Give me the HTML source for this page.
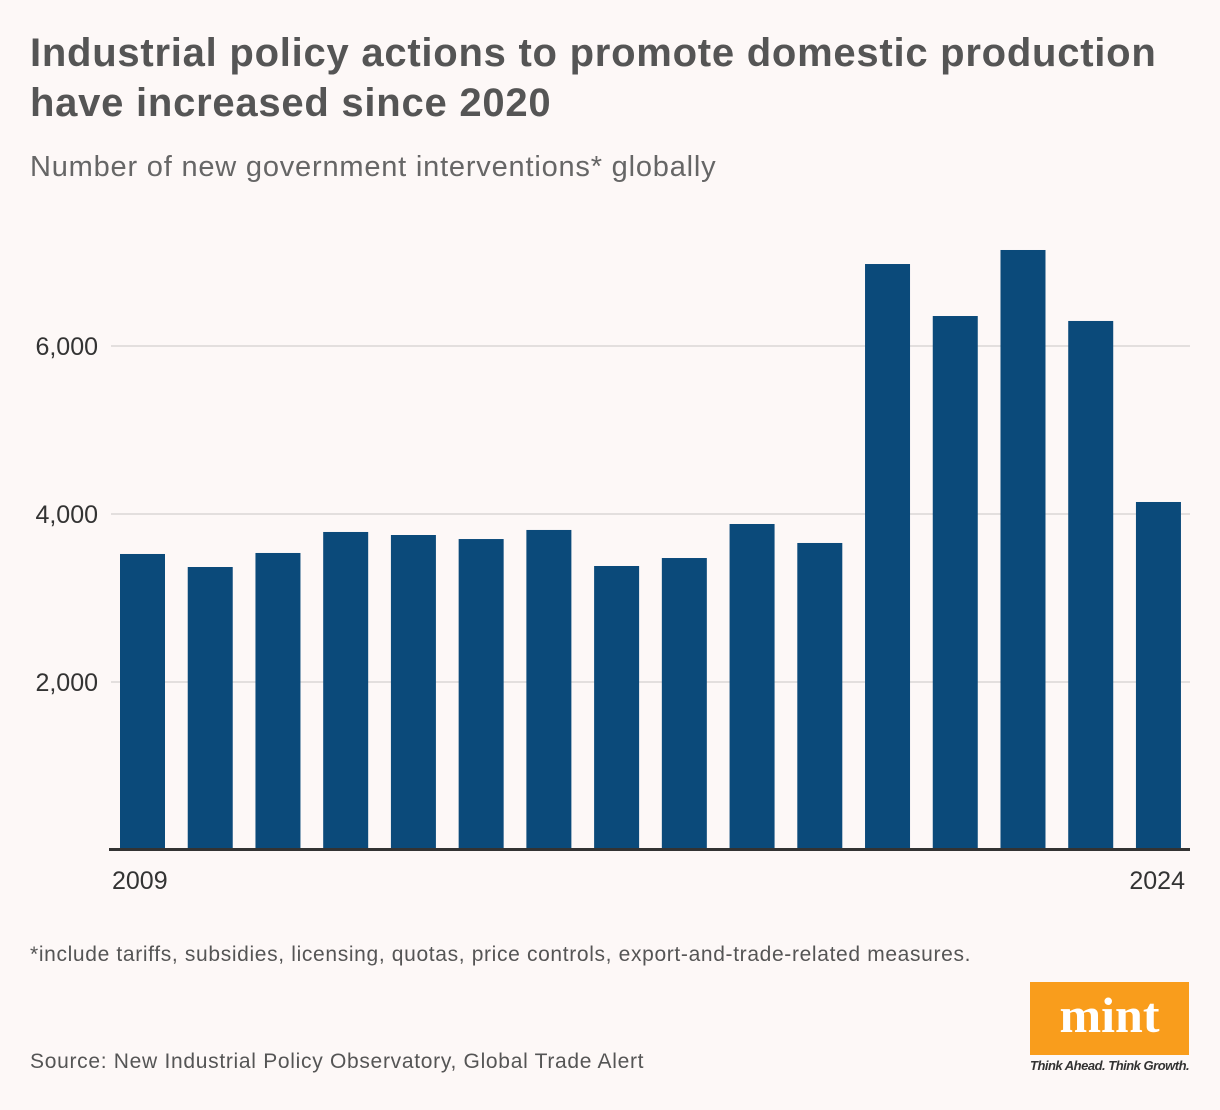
<!DOCTYPE html>
<html><head><meta charset="utf-8"><style>
body{margin:0;background:#fdf8f7;font-family:"Liberation Sans",sans-serif;}
#wrap{position:relative;width:1220px;height:1110px;overflow:hidden;background:#fdf8f7;}
.t{position:absolute;margin:0;}
</style></head><body>
<div id="wrap">
<h1 class="t" style="left:30px;top:28px;font-size:40px;line-height:50px;font-weight:bold;color:#555;letter-spacing:0.75px;">Industrial policy actions to promote domestic production<br>have increased since 2020</h1>
<div class="t" style="left:30px;top:151px;font-size:29px;color:#666;letter-spacing:0.8px;">Number of new government interventions* globally</div>
<svg id="chart" width="1220" height="900" style="position:absolute;left:0;top:0"></svg>
<div class="t" style="left:30px;top:943px;font-size:21px;color:#555;letter-spacing:0.65px;">*include tariffs, subsidies, licensing, quotas, price controls, export-and-trade-related measures.</div>
<div class="t" style="left:30px;top:1050px;font-size:21px;color:#555;letter-spacing:0.7px;">Source: New Industrial Policy Observatory, Global Trade Alert</div>
<div class="t" style="left:1030px;top:982px;width:159px;height:73px;background:#f99d1c;color:#fff;font-family:'Liberation Serif',serif;font-weight:bold;font-size:50px;text-align:center;line-height:66px;">mint</div>
<div class="t" style="left:1030px;top:1058px;width:160px;font-size:13px;font-style:italic;font-weight:bold;color:#333;white-space:nowrap;letter-spacing:-0.5px;">Think Ahead. Think Growth.</div>
</div>
<script>
const years=[2009,2010,2011,2012,2013,2014,2015,2016,2017,2018,2019,2020,2021,2022,2023,2024];
const values=[3524,3369,3536,3786,3750,3702,3810,3381,3476,3881,3655,6976,6357,7143,6298,4143];
const yTicks=[2000,4000,6000];
const xLabels=["2009","2024"];
const svg=document.getElementById('chart');
const NS='http://www.w3.org/2000/svg';
const y0=850,k=0.084;
const y=v=>y0-v*k;
const x=i=>120+i*67.73;
const bw=45;
function mk(t,a){const e=document.createElementNS(NS,t);for(const n in a)e.setAttribute(n,a[n]);svg.appendChild(e);return e;}
yTicks.forEach(v=>{
 const g=mk('line',{x1:111,x2:1190,y1:y(v),y2:y(v),stroke:'#e3dfde','stroke-width':2});
 
 
 const t=mk('text',{x:98,y:y(v)+9,'text-anchor':'end','font-size':25,fill:'#333','font-family':'Liberation Sans, sans-serif'});
 t.textContent=v.toLocaleString('en-US');
 
 
});
values.forEach((v,i)=>{
 const r=mk('rect',{x:x(i),y:y(v),width:bw,height:v*k-2,fill:'#0b4a7a'});
 
 
});
const ax=mk('rect',{x:109,y:848,width:1081,height:3,fill:'#333'});


const l1=mk('text',{x:112,y:889,'font-size':25,fill:'#333','font-family':'Liberation Sans, sans-serif'});
l1.textContent=xLabels[0];


const l2=mk('text',{x:1185,y:889,'text-anchor':'end','font-size':25,fill:'#333','font-family':'Liberation Sans, sans-serif'});
l2.textContent=xLabels[1];


</script>
</body></html>
